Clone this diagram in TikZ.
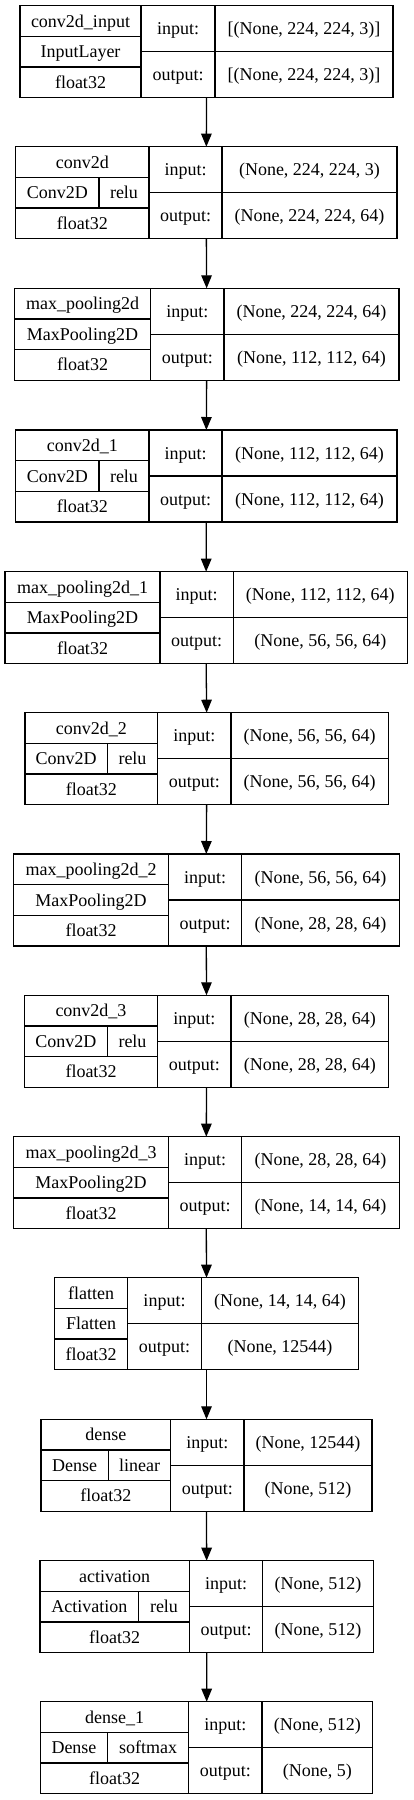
\documentclass[tikz,border=0pt]{standalone}
\usepackage{fontspec}
\setmainfont{Liberation Serif}
\usetikzlibrary{arrows.meta}
\tikzset{
  frame/.style={draw, line width=1.3pt, inner sep=0pt, outer sep=0pt},
  rule/.style={line width=1.3pt},
  txt/.style={anchor=base, inner sep=0pt, font=\fontsize{18}{20}\selectfont},
  arr/.style={-{Triangle[length=13pt,width=10.5pt]}, line width=1.3pt}
}
\newcommand\setgeom[5]{\gdef\gL{#1}\gdef\gA{#2}\gdef\gB{#3}\gdef\gR{#4}\gdef\gT{#5}}
\newcommand\lbox[7]{%
  \pgfmathsetmacro\gBot{\gT+92}%
  \pgfmathsetmacro\gRa{\gT+92/3}%
  \pgfmathsetmacro\gRb{\gT+184/3}%
  \pgfmathsetmacro\gM{\gT+46}%
  \pgfmathsetmacro\gCx{(\gL+\gR)/2}%
  \pgfmathsetmacro\gW{\gR-\gL}%
  \pgfmathsetmacro\gLc{(\gL+\gA)/2}%
  \pgfmathsetmacro\gIc{(\gA+\gB)/2}%
  \pgfmathsetmacro\gVc{(\gB+\gR)/2}%
  \node[frame, minimum width=\gW pt, minimum height=92pt] (#1) at (\gCx,\gM) {};
  \draw[rule] (\gA,\gT) -- (\gA,\gBot) (\gB,\gT) -- (\gB,\gBot)
     (\gL,\gRa) -- (\gA,\gRa) (\gL,\gRb) -- (\gA,\gRb) (\gA,\gM) -- (\gR,\gM);
  \node[txt] (#1-name) at (\gLc, {\gT+46/3+6}) {#2};
  \ifx\relax#5\relax
    \node[txt] (#1-type) at (\gLc, {\gM+6}) {#3};
  \else
    \draw[rule] (#5,\gRa) -- (#5,\gRb);
    \node[txt] (#1-type) at ({(\gL+#5)/2}, {\gM+6}) {#3};
    \node[txt] (#1-act) at ({(#5+\gA)/2}, {\gM+6}) {#4};
  \fi
  \node[txt] (#1-dtype) at (\gLc, {\gT+5*92/6+6}) {float32};
  \node[txt] (#1-inl) at (\gIc, {\gT+23+6}) {input:};
  \node[txt] (#1-in) at (\gVc, {\gT+23+6}) {#6};
  \node[txt] (#1-outl) at (\gIc, {\gT+69+6}) {output:};
  \node[txt] (#1-out) at (\gVc, {\gT+69+6}) {#7};
}
\begin{document}
\begin{tikzpicture}[x=1pt, y=-1pt]
\useasboundingbox (0,0) rectangle (413,1800);
\setgeom{20}{141}{215}{393}{5.7}
\lbox{b1}{conv2d\_input}{InputLayer}{}{}{[(None, 224, 224, 3)]}{[(None, 224, 224, 3)]}
\setgeom{15.7}{149}{222}{397}{146.7}
\lbox{b2}{conv2d}{Conv2D}{relu}{99}{(None, 224, 224, 3)}{(None, 224, 224, 64)}
\setgeom{14.3}{150.7}{224}{399}{288.3}
\lbox{b3}{max\_pooling2d}{MaxPooling2D}{}{}{(None, 224, 224, 64)}{(None, 112, 112, 64)}
\setgeom{15.7}{149}{222}{397}{430}
\lbox{b4}{conv2d\_1}{Conv2D}{relu}{99}{(None, 112, 112, 64)}{(None, 112, 112, 64)}
\setgeom{5}{160}{233.3}{407.3}{571.7}
\lbox{b5}{max\_pooling2d\_1}{MaxPooling2D}{}{}{(None, 112, 112, 64)}{(None, 56, 56, 64)}
\setgeom{25}{157.7}{231}{388.3}{712.7}
\lbox{b6}{conv2d\_2}{Conv2D}{relu}{107.3}{(None, 56, 56, 64)}{(None, 56, 56, 64)}
\setgeom{13.3}{168.7}{241.7}{399.3}{854}
\lbox{b7}{max\_pooling2d\_2}{MaxPooling2D}{}{}{(None, 56, 56, 64)}{(None, 28, 28, 64)}
\setgeom{24.3}{157.7}{231}{388.7}{995.3}
\lbox{b8}{conv2d\_3}{Conv2D}{relu}{107.3}{(None, 28, 28, 64)}{(None, 28, 28, 64)}
\setgeom{13.3}{168.7}{241.7}{399.3}{1136.7}
\lbox{b9}{max\_pooling2d\_3}{MaxPooling2D}{}{}{(None, 28, 28, 64)}{(None, 14, 14, 64)}
\setgeom{54.3}{127.7}{201.3}{358.7}{1277.7}
\lbox{b10}{flatten}{Flatten}{}{}{(None, 14, 14, 64)}{(None, 12544)}
\setgeom{41}{170.7}{244}{372}{1419.3}
\lbox{b11}{dense}{Dense}{linear}{108.3}{(None, 12544)}{(None, 512)}
\setgeom{40}{189.3}{262.7}{373.3}{1560.7}
\lbox{b12}{activation}{Activation}{relu}{138.7}{(None, 512)}{(None, 512)}
\setgeom{40.7}{188.7}{262}{372.7}{1701.7}
\lbox{b13}{dense\_1}{Dense}{softmax}{107.3}{(None, 512)}{(None, 5)}
\foreach \a/\b in {b1/b2,b2/b3,b3/b4,b4/b5,b5/b6,b6/b7,b7/b8,b8/b9,b9/b10,b10/b11,b11/b12,b12/b13}
  \draw[arr] (\a.south) -- (\b.north);
\end{tikzpicture}
\end{document}
